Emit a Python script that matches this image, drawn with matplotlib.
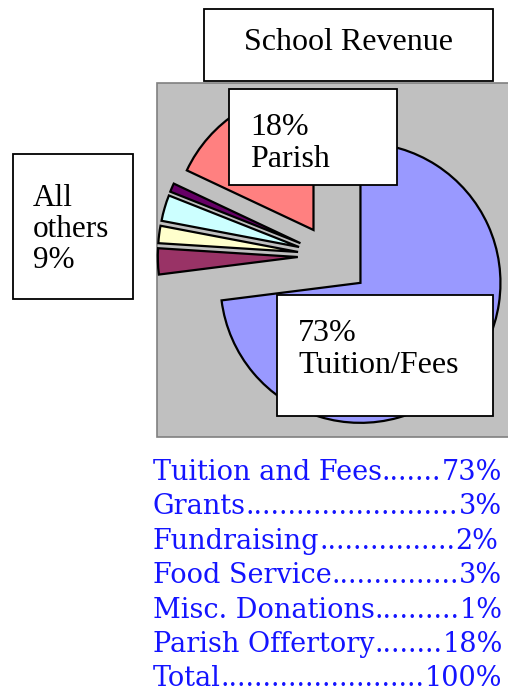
import matplotlib.pyplot as plt
from matplotlib.patches import Rectangle

# Datos del grafico (orden de las porciones en sentido horario desde arriba)
categorias = ['Tuition and Fees', 'Grants', 'Fundraising', 'Food Service',
              'Misc. Donations', 'Parish Offertory']
porcentajes = [73, 3, 2, 3, 1, 18]
colores = ['#9999FF', '#993366', '#FFFFCC', '#CCFFFF', '#660066', '#FF8080']
separacion = [0.29, 0.23, 0.23, 0.23, 0.23, 0.22]

# Lista de abajo
lista_etiquetas = categorias + ['Total']
lista_valores = ['73%', '3%', '2%', '3%', '1%', '18%', '100%']

titulo = 'School Revenue'
etiqueta_parish = '18%\nParish'
etiqueta_tuition = '73%\nTuition/Fees'
etiqueta_otros = 'All\nothers\n9%'

ANCHO, ALTO = 508, 692
RADIO = 140


def y_px(y):
    # Pasar de coordenadas de imagen (y hacia abajo) a coordenadas de datos
    return ALTO - y


# Crear la figura y unos ejes que cubren todo, en pixeles
fig = plt.figure(figsize=(ANCHO / 100, ALTO / 100), dpi=100)
ax = fig.add_axes([0, 0, 1, 1])

# Fondo gris del area del grafico
ax.add_patch(Rectangle((157, y_px(437)), 400, 354, facecolor='#C0C0C0',
                       edgecolor='#808080', linewidth=1.2, zorder=1))

# Dibujar el pastel (la separacion va en unidades de datos)
ax.pie(porcentajes, colors=colores, explode=[s * RADIO for s in separacion],
       startangle=90, counterclock=False, radius=RADIO,
       center=(330, y_px(256)), frame=True,
       wedgeprops=dict(edgecolor='black', linewidth=1.6, zorder=2))
ax.set_xlim(0, ANCHO)
ax.set_ylim(0, ALTO)
ax.set_aspect('auto')
ax.axis('off')

fuente_caja = 'Liberation Serif'


def caja(x0, y0, x1, y1, texto, tx, ty, ha='left', tam=23, esp=1.13):
    # Rectangulo blanco con borde negro y su texto
    ax.add_patch(Rectangle((x0, y_px(y1)), x1 - x0, y1 - y0, facecolor='white',
                           edgecolor='black', linewidth=1.3, zorder=5))
    ax.text(tx, y_px(ty), texto, ha=ha, va='baseline', fontsize=tam,
            family=fuente_caja, linespacing=esp, zorder=6)


# Cajas de texto (ty es la linea base de la ultima linea)
caja(204, 9, 493, 81, titulo, 349, 50, ha='center')
caja(229, 89, 397, 185, etiqueta_parish, 250, 167)
caja(277, 295, 493, 416, etiqueta_tuition, 298, 373)
caja(13, 154, 133, 299, etiqueta_otros, 33, 268, tam=22.5, esp=1.1)

# Lista con puntos de relleno hasta el tabulador derecho
fig.canvas.draw()
render = fig.canvas.get_renderer()
fuente_lista = dict(fontsize=19.5, family='DejaVu Serif', color='#1414FF')
punto = ax.text(0, 0, '.' * 10, **fuente_lista)
ancho_punto = punto.get_window_extent(render).width / 10
punto.remove()

x_izq, x_der = 153, 506
for i, (nombre, valor) in enumerate(zip(lista_etiquetas, lista_valores)):
    base = y_px(480 + i * 34.4)
    t1 = ax.text(x_izq, base, nombre, ha='left', va='baseline', **fuente_lista)
    t2 = ax.text(x_der, base, valor, ha='right', va='baseline', **fuente_lista)
    fin = t1.get_window_extent(render).x1
    inicio = t2.get_window_extent(render).x0
    n = int((inicio - fin) / ancho_punto)
    t3 = ax.text(fin, base, '.' * n, ha='left', va='baseline', **fuente_lista)
    # El valor va justo despues de los puntos
    t2.set_x(t3.get_window_extent(render).x1)
    t2.set_horizontalalignment('left')

plt.savefig('out.png', dpi=100)
plt.close()
